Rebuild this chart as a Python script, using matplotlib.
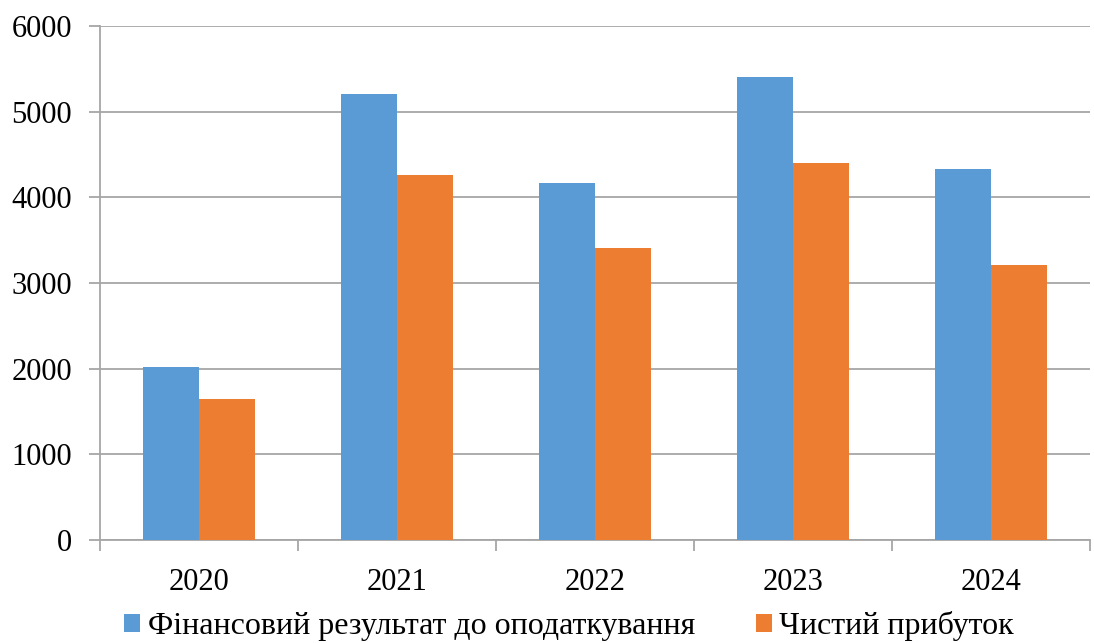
import matplotlib
matplotlib.use("Agg")
import matplotlib.pyplot as plt
import numpy as np

years = ["2020", "2021", "2022", "2023", "2024"]
profit_before_tax = [2017, 5205, 4171, 5403, 4328]
net_profit = [1643, 4257, 3412, 4396, 3214]
series_names = ["Фінансовий результат до оподаткування", "Чистий прибуток"]

plt.rcParams["font.family"] = ["Liberation Serif", "DejaVu Serif"]

fig = plt.figure(figsize=(10.94, 6.43), dpi=100)
ax = fig.add_axes([100 / 1094, 1 - 540 / 643, 990 / 1094, 514 / 643])

x = np.arange(len(years))
w = 0.285
ax.bar(x - w / 2, profit_before_tax, w, color="#5B9BD5", label=series_names[0], zorder=3)
ax.bar(x + w / 2, net_profit, w, color="#ED7D31", label=series_names[1], zorder=3)

ax.set_xlim(-0.5, len(years) - 0.5)
ax.set_ylim(0, 6000)
ax.set_yticks(range(0, 6001, 1000))
ax.yaxis.grid(True, color="#A6A6A6", linewidth=1.3, zorder=0)
ax.set_xticks(x)
ax.set_xticklabels(years)
ax.set_xticks(np.arange(-0.5, len(years), 1), minor=True)
ax.tick_params(axis="x", which="major", length=0, labelsize=22, pad=20)
ax.tick_params(axis="x", which="minor", length=8, color="#A6A6A6", width=1.3)
ax.tick_params(axis="y", length=8, color="#A6A6A6", width=1.3, labelsize=22, pad=12)
for side in ["top", "right"]:
    ax.spines[side].set_visible(False)
for side in ["left", "bottom"]:
    ax.spines[side].set_color("#A6A6A6")
    ax.spines[side].set_linewidth(1.3)

fig.legend(loc="center", bbox_to_anchor=(0.52, 1 - 626 / 643), ncol=2, frameon=False,
           fontsize=23, handlelength=0.5, handleheight=0.5, handletextpad=0.25,
           columnspacing=1.9, borderpad=0)

fig.savefig("out.png", dpi=100)
